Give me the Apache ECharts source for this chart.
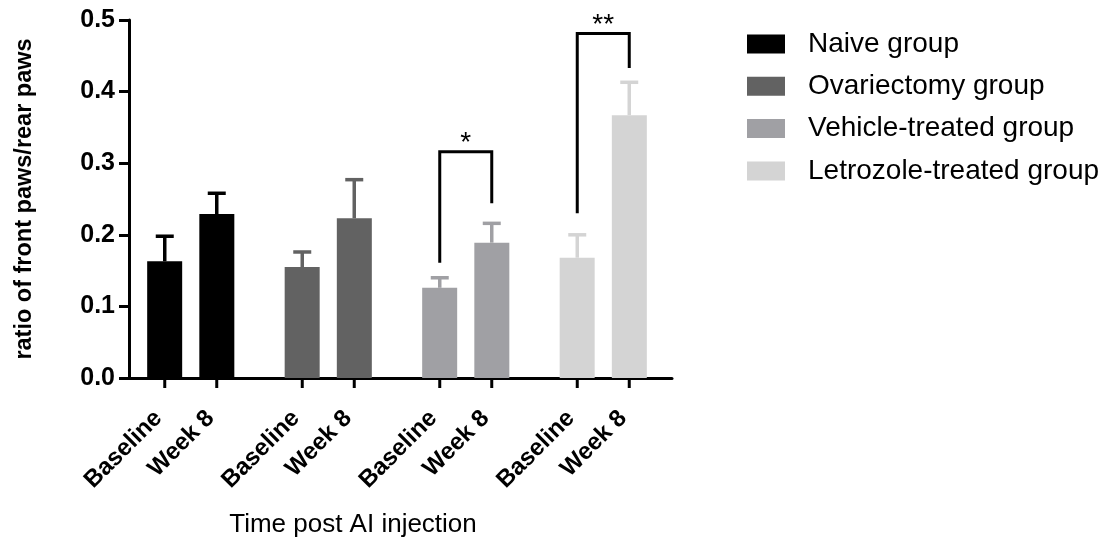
<!DOCTYPE html>
<html>
<head>
    <meta charset="utf-8">
    <title>ECharts</title>
    <script src="https://cdn.jsdelivr.net/npm/echarts@6/dist/echarts.min.js"></script>
</head>
<body style="margin:0">
    <div id="main" style="width:1113px;height:543px"></div>
</body>
<script>
    // data
    var groups = ['Naive group', 'Ovariectomy group', 'Vehicle-treated group', 'Letrozole-treated group'];
    var colors = ['#000000', '#626262', '#a0a0a4', '#d4d4d4'];
    var times = ['Baseline', 'Week 8'];
    var baselineMean = [0.163, 0.155, 0.126, 0.168];
    var baselineSd = [0.035, 0.021, 0.014, 0.032];
    var week8Mean = [0.229, 0.223, 0.189, 0.367];
    var week8Sd = [0.029, 0.054, 0.027, 0.046];
    var yTicks = [0, 0.1, 0.2, 0.3, 0.4, 0.5];
    // significance brackets: group, left foot, top, right foot, mark
    var bracketGroup = [2, 3];
    var bracketLeft = [0.161, 0.230];
    var bracketTop = [0.316, 0.481];
    var bracketRight = [0.244, 0.433];
    var bracketMark = ['*', '**'];

    var FONT = 'Liberation Sans, Arial, sans-serif';
    var BAR_W = 35;
    var HALF = 26; // distance from group centre to each bar centre

    var mychart = echarts.init(document.getElementById('main'));

    var series = [];
    groups.forEach(function (g, i) {
        [baselineMean, week8Mean].forEach(function (arr, t) {
            series.push({
                name: g,
                type: 'bar',
                stack: 's' + t,
                barWidth: BAR_W,
                barGap: '49%',
                itemStyle: { color: colors[i] },
                label: {
                    show: true,
                    position: 'bottom',
                    distance: 26,
                    rotate: 45,
                    align: 'right',
                    verticalAlign: 'middle',
                    formatter: times[t],
                    fontFamily: FONT,
                    fontWeight: 'bold',
                    fontSize: 24,
                    color: '#000'
                },
                labelLayout: { dx: -12, dy: 3 },
                data: groups.map(function (_, j) { return j === i ? arr[i] : '-'; })
            });
        });
    });

    var errData = [];
    groups.forEach(function (g, i) {
        errData.push([i, -1, baselineMean[i], baselineSd[i]]);
        errData.push([i, 1, week8Mean[i], week8Sd[i]]);
    });

    series.push({
        type: 'custom',
        silent: true,
        data: errData,
        encode: { x: 0, y: 2 },
        renderItem: function (params, api) {
            var cat = api.value(0);
            var x = api.coord([cat, 0])[0] + api.value(1) * HALF;
            var base = api.coord([cat, 0])[1];
            var yMean = api.coord([cat, api.value(2)])[1];
            var yTop = api.coord([cat, api.value(2) + api.value(3)])[1];
            var c = colors[cat];
            return {
                type: 'group',
                children: [
                    { type: 'line', shape: { x1: x, y1: yMean, x2: x, y2: yTop }, style: { stroke: c, lineWidth: 3.5 } },
                    { type: 'line', shape: { x1: x - 9, y1: yTop, x2: x + 9, y2: yTop }, style: { stroke: c, lineWidth: 3.5 } },
                    { type: 'line', shape: { x1: x, y1: base, x2: x, y2: base + 10 }, style: { stroke: '#000', lineWidth: 3 } }
                ]
            };
        }
    });

    series.push({
        type: 'custom',
        silent: true,
        data: bracketGroup.map(function (g, k) {
            return [g, bracketLeft[k], bracketTop[k], bracketRight[k], k];
        }),
        encode: { x: 0, y: 2 },
        renderItem: function (params, api) {
            var cat = api.value(0);
            var cx = api.coord([cat, 0])[0];
            var yl = api.coord([cat, api.value(1)])[1];
            var yt = api.coord([cat, api.value(2)])[1];
            var yr = api.coord([cat, api.value(3)])[1];
            return {
                type: 'group',
                children: [
                    {
                        type: 'polyline',
                        shape: { points: [[cx - HALF, yl], [cx - HALF, yt], [cx + HALF, yt], [cx + HALF, yr]] },
                        style: { stroke: '#000', lineWidth: 3, fill: null }
                    },
                    {
                        type: 'text',
                        style: {
                            x: cx, y: yt - 8,
                            text: bracketMark[api.value(4)],
                            align: 'center', verticalAlign: 'middle',
                            font: '28px ' + FONT, fill: '#000'
                        }
                    }
                ]
            };
        }
    });

    var option = {
        animation: false,
        backgroundColor: '#fff',
        grid: { left: 122, top: 20, width: 550, height: 358 },
        legend: {
            data: groups,
            orient: 'vertical',
            left: 747,
            top: 30,
            padding: 0,
            icon: 'rect',
            itemWidth: 38,
            itemHeight: 19,
            itemGap: 14.3,
            textStyle: { fontFamily: FONT, fontSize: 28, lineHeight: 28, color: '#000', padding: [0, 0, 0, 18] }
        },
        xAxis: {
            type: 'category',
            data: groups,
            name: 'Time post AI injection',
            nameLocation: 'middle',
            nameGap: 134,
            nameTextStyle: { fontFamily: FONT, fontSize: 26, color: '#000', padding: [0, 88, 0, 0] },
            axisLine: { lineStyle: { color: '#000', width: 3 } },
            axisTick: { show: false },
            axisLabel: { show: false }
        },
        yAxis: {
            type: 'value',
            min: yTicks[0],
            max: yTicks[yTicks.length - 1],
            interval: 0.1,
            offset: -7,
            name: 'ratio of front paws/rear paws',
            nameLocation: 'middle',
            nameGap: 92,
            nameTextStyle: { fontFamily: FONT, fontSize: 23.5, fontWeight: 'bold', color: '#000' },
            axisLine: { show: true, lineStyle: { color: '#000', width: 3 } },
            axisTick: { show: true, length: 10, lineStyle: { color: '#000', width: 3 } },
            splitLine: { show: false },
            axisLabel: {
                fontFamily: FONT, fontSize: 25, fontWeight: 'bold', color: '#000', margin: 14,
                formatter: function (v) { return v.toFixed(1); }
            }
        },
        series: series
    };
    mychart.setOption(option);
</script>
</html>
